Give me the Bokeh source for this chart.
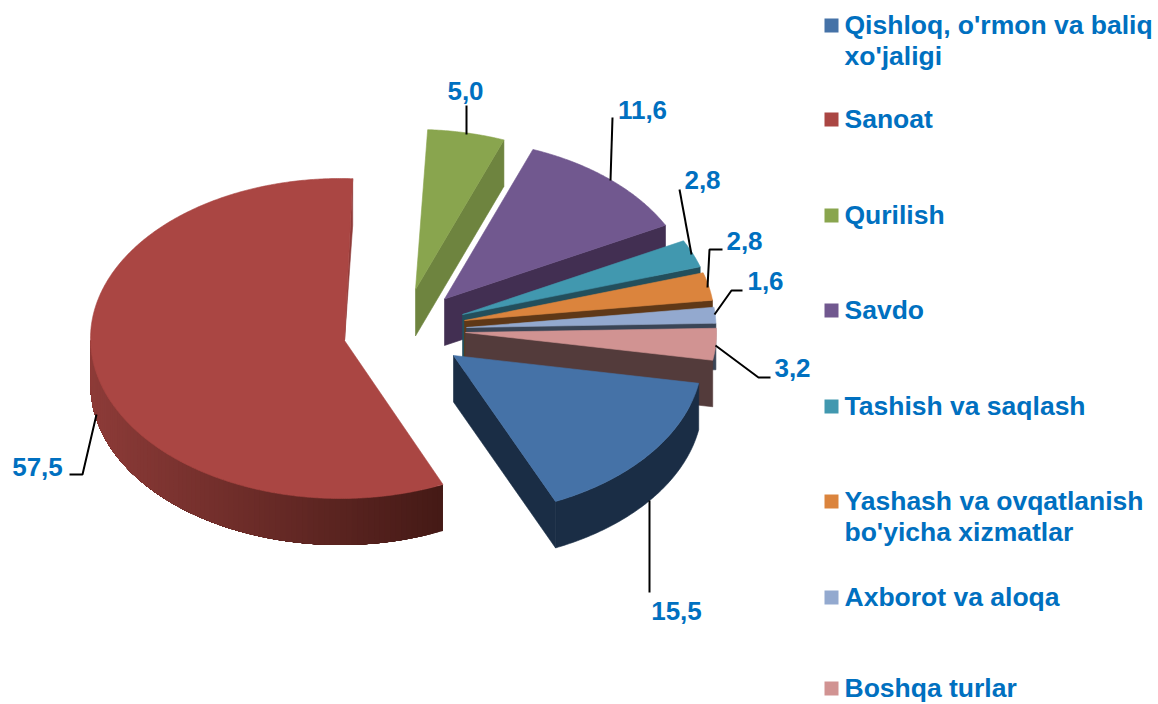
import numpy as np
from bokeh.core.properties import value
from bokeh.embed import file_html
from bokeh.models import ColumnDataSource, Range1d
from bokeh.plotting import figure
from bokeh.resources import INLINE

# ---- data ----
categories = ["Qishloq, o'rmon va baliq xo'jaligi", "Sanoat", "Qurilish", "Savdo",
              "Tashish va saqlash", "Yashash va ovqatlanish bo'yicha xizmatlar",
              "Axborot va aloqa", "Boshqa turlar"]
shares = [15.5, 57.5, 5.0, 11.6, 2.8, 2.8, 1.6, 3.2]

# ---- styles ----
top_colors = ["#4572a7", "#aa4643", "#89a54e", "#71588f", "#4198af", "#db843d", "#93a9cf", "#d19392"]
wall_colors = ["#1a2d45", "#8f3b39", "#6e843f", "#422f52", "#234f5c", "#5f3817", "#3a4556", "#533b3b"]
red_wall_left = (0x8d, 0x3b, 0x38)
red_wall_right = (0x45, 0x1a, 0x16)

# ---- layout (page pixels) ----
START_DEG = 100.0
RX, RY, DEPTH = 249.0, 160.0, 46.5
centers = [(453, 355), (340, 338), (415, 289), (444, 298.5), (462, 314), (465, 320), (466.5, 327), (467, 332)]
rxs = [RX, 250.0, RX, RX, RX, RX, RX, RX]
apexes = [(453, 355), (344, 340), (415, 289), (444, 298.5), (462, 314), (464, 320), (466, 327), (465, 332)]
apex_depths = [DEPTH, 0.0, DEPTH, DEPTH, DEPTH, DEPTH, DEPTH, DEPTH]
draw_order = [1, 2, 3, 4, 5, 6, 7, 0]

label_pos = [(676, 610), (37, 466), (465, 90), (642, 109), (702, 179), (744, 240), (765, 280), (792, 367)]
leaders = [
    [(649, 500), (649, 592)],
    [(96, 414), (82, 474), (69, 474)],
    [(466, 134), (466, 105)],
    [(610, 180), (612, 117)],
    [(691, 254), (679, 189)],
    [(707, 287), (709, 249), (722, 249)],
    [(714, 314), (731, 290), (742, 290)],
    [(715, 345), (758, 377), (770, 377)],
]
legend_lines = [["Qishloq, o'rmon va baliq", "xo'jaligi"], ["Sanoat"], ["Qurilish"], ["Savdo"],
                ["Tashish va saqlash"], ["Yashash va ovqatlanish", "bo'yicha xizmatlar"],
                ["Axborot va aloqa"], ["Boshqa turlar"]]
legend_y = [24, 118, 214, 309, 405, 500, 596, 687]
legend_sq_y = [25, 119, 215, 310, 406, 501, 597, 688]
LEGEND_TEXT_X, LEGEND_SQ_X, SQ, LINE_H = 844, 824, 14, 31
TEXT_COLOR = "#0070c0"
FONT = "Liberation Sans"
LABEL_SIZE = "26px"
LEGEND_SIZE = "26.5px"


def rim(i, deg):
    t = np.radians(deg)
    cx, cy = centers[i]
    return cx + rxs[i] * np.sin(t), cy - RY * np.cos(t)


xs, ys, fills, edges_alpha = [], [], [], []


def add(px, py, col, la=1.0):
    xs.append(list(map(float, px)))
    ys.append(list(map(float, py)))
    fills.append(col)
    edges_alpha.append(la)


bounds = START_DEG + np.concatenate([[0], np.cumsum(shares)]) * 3.6

for i in draw_order:
    t0, t1 = bounds[i], bounds[i + 1]
    ax, ay = apexes[i]
    # cut face on the slice's clockwise end
    ex, ey = rim(i, t1)
    add([ax, ex, ex, ax], [ay, ey, ey + DEPTH, ay + apex_depths[i]], wall_colors[i])
    # visible part of the outer wall
    a, b = max(t0, 90.0), min(t1, 270.0)
    if a < b:
        if i == 1:
            steps = np.linspace(a, b, 91)
            xmin, xmax = rim(i, 270.0)[0], rim(i, a)[0]
            for e0 in steps[:-1]:
                # every band runs on to the far end, so the next one paints over its edge
                ang = np.linspace(e0, b, 60)
                px, py = rim(i, ang)
                f = (rim(i, e0)[0] - xmin) / (xmax - xmin)
                rgb = [int(round(l + (r - l) * f)) for l, r in zip(red_wall_left, red_wall_right)]
                add(np.r_[px, px[::-1]], np.r_[py, py[::-1] + DEPTH], "#%02x%02x%02x" % tuple(rgb), 0.0)
        else:
            ang = np.linspace(a, b, 80)
            px, py = rim(i, ang)
            add(np.r_[px, px[::-1]], np.r_[py, py[::-1] + DEPTH], wall_colors[i])
    # top face
    ang = np.linspace(t0, t1, max(int(t1 - t0) * 2, 12))
    px, py = rim(i, ang)
    add(np.r_[ax, px], np.r_[ay, py], top_colors[i])

p = figure(width=1158, height=704, x_range=Range1d(0, 1158), y_range=Range1d(704, 0),
           x_axis_type=None, y_axis_type=None, toolbar_location=None, output_backend="svg",
           min_border=0, outline_line_color=None, background_fill_color="white")
p.grid.visible = False

p.patches("xs", "ys", source=ColumnDataSource(dict(xs=xs, ys=ys, c=fills, la=edges_alpha)),
          fill_color="c", line_color="c", line_alpha="la", line_width=0.6)

p.multi_line([[q[0] for q in l] for l in leaders], [[q[1] for q in l] for l in leaders],
             line_color="black", line_width=2)

p.text([q[0] for q in label_pos], [q[1] for q in label_pos],
       text=[f"{v:.1f}".replace(".", ",") for v in shares],
       text_font=value(FONT), text_font_style="bold", text_font_size=LABEL_SIZE,
       text_color=TEXT_COLOR, text_align="center", text_baseline="middle")

leg_x, leg_y, leg_t = [], [], []
for y0, lines in zip(legend_y, legend_lines):
    for k, line in enumerate(lines):
        leg_x.append(LEGEND_TEXT_X)
        leg_y.append(y0 + k * LINE_H)
        leg_t.append(line)
p.text(leg_x, leg_y, text=leg_t, text_font=value(FONT), text_font_style="bold",
       text_font_size=LEGEND_SIZE, text_color=TEXT_COLOR, text_align="left", text_baseline="middle")

p.quad(left=[LEGEND_SQ_X] * 8, right=[LEGEND_SQ_X + SQ] * 8,
       top=[y - SQ / 2 for y in legend_sq_y], bottom=[y + SQ / 2 for y in legend_sq_y],
       fill_color=top_colors, line_color=None)

open("out.html", "w").write(file_html(p, INLINE))
